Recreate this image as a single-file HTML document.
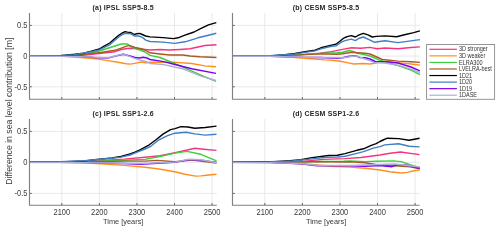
<!DOCTYPE html>
<html><head><meta charset="utf-8"><style>
html,body{margin:0;padding:0;background:#fff;width:500px;height:230px;overflow:hidden}
svg{display:block;will-change:transform}
text{font-family:"Liberation Sans",sans-serif;fill:#262626}
.tk{font-size:7.5px;fill:#3a3a3a}
.xl{font-size:7.4px;fill:#3a3a3a}
.yl{font-size:8.7px;fill:#3a3a3a}
.ti{font-size:7px;font-weight:bold;fill:#262626;letter-spacing:0.22px}
.lg{font-size:5.5px;fill:#333}
</style></head><body>
<svg width="500" height="230" viewBox="0 0 500 230">
<rect width="500" height="230" fill="#fff"/>
<line x1="61.80" y1="13" x2="61.80" y2="99.2" stroke="#E4E4E4" stroke-width="0.8"/>
<line x1="99.37" y1="13" x2="99.37" y2="99.2" stroke="#E4E4E4" stroke-width="0.8"/>
<line x1="136.94" y1="13" x2="136.94" y2="99.2" stroke="#E4E4E4" stroke-width="0.8"/>
<line x1="174.51" y1="13" x2="174.51" y2="99.2" stroke="#E4E4E4" stroke-width="0.8"/>
<line x1="212.08" y1="13" x2="212.08" y2="99.2" stroke="#E4E4E4" stroke-width="0.8"/>
<line x1="29.6" y1="25.40" x2="216.8" y2="25.40" stroke="#E4E4E4" stroke-width="0.8"/>
<line x1="29.6" y1="56.10" x2="216.8" y2="56.10" stroke="#E4E4E4" stroke-width="0.8"/>
<line x1="29.6" y1="86.80" x2="216.8" y2="86.80" stroke="#E4E4E4" stroke-width="0.8"/>
<line x1="61.80" y1="99.2" x2="61.80" y2="97.0" stroke="#555" stroke-width="0.9"/>
<line x1="99.37" y1="99.2" x2="99.37" y2="97.0" stroke="#555" stroke-width="0.9"/>
<line x1="136.94" y1="99.2" x2="136.94" y2="97.0" stroke="#555" stroke-width="0.9"/>
<line x1="174.51" y1="99.2" x2="174.51" y2="97.0" stroke="#555" stroke-width="0.9"/>
<line x1="212.08" y1="99.2" x2="212.08" y2="97.0" stroke="#555" stroke-width="0.9"/>
<line x1="29.6" y1="25.40" x2="31.8" y2="25.40" stroke="#555" stroke-width="0.9"/>
<line x1="29.6" y1="56.10" x2="31.8" y2="56.10" stroke="#555" stroke-width="0.9"/>
<line x1="29.6" y1="86.80" x2="31.8" y2="86.80" stroke="#555" stroke-width="0.9"/>
<polyline points="29.60,56.05 60.00,56.05 80.00,55.55 92.40,54.30 101.00,53.20 115.00,51.70 121.10,49.50 128.90,48.20 136.00,48.50 145.00,49.50 150.00,50.00 160.00,49.50 170.00,50.00 180.00,49.50 190.00,48.80 198.00,47.00 205.00,45.50 216.50,44.80" fill="none" stroke="#F7337F" stroke-width="1.4" stroke-linejoin="round" stroke-linecap="butt"/>
<polyline points="29.60,55.95 60.00,56.15 80.00,57.50 94.00,58.50 108.00,60.60 116.40,62.00 126.20,63.70 130.40,64.10 136.00,63.10 141.60,62.00 145.80,62.70 150.60,62.20 173.00,62.10 191.70,63.50 204.80,65.90 216.00,66.80" fill="none" stroke="#FF9020" stroke-width="1.4" stroke-linejoin="round" stroke-linecap="butt"/>
<polyline points="29.60,55.90 60.00,55.90 80.00,54.90 92.40,52.50 99.30,51.20 105.40,49.00 115.00,46.00 121.10,44.00 127.60,44.00 130.00,46.00 135.00,48.50 140.00,50.00 145.00,52.00 150.00,55.40 160.00,57.50 165.00,59.50 182.40,66.80 201.00,75.20 216.00,81.40" fill="none" stroke="#3CCF3C" stroke-width="1.4" stroke-linejoin="round" stroke-linecap="butt"/>
<polyline points="29.60,56.00 60.00,56.00 80.00,55.30 92.40,53.40 101.00,52.50 115.00,50.30 121.10,48.20 128.90,45.30 135.00,47.50 140.00,48.50 145.00,50.00 150.00,52.80 160.00,54.00 170.00,55.00 183.00,55.00 190.00,56.00 200.00,56.80 216.50,57.50" fill="none" stroke="#A65A24" stroke-width="1.4" stroke-linejoin="round" stroke-linecap="butt"/>
<polyline points="29.60,55.85 60.00,55.75 75.00,54.30 83.70,53.20 92.40,50.80 99.30,49.00 103.70,46.40 109.80,43.00 114.30,39.00 118.70,35.40 122.20,33.00 125.20,31.70 127.40,32.10 130.90,32.50 134.30,34.50 137.00,33.70 139.60,33.40 142.20,34.50 145.70,36.00 150.00,36.90 163.00,37.60 173.50,38.60 178.00,37.80 185.00,35.20 194.10,32.00 200.60,28.70 208.50,24.80 216.30,22.60" fill="none" stroke="#000000" stroke-width="1.4" stroke-linejoin="round" stroke-linecap="butt"/>
<polyline points="29.60,55.70 60.00,55.70 75.00,54.60 92.40,51.50 99.30,49.90 105.40,46.90 109.80,44.80 114.30,40.80 118.70,36.90 122.20,34.70 125.20,33.40 130.90,33.80 134.30,36.00 138.70,36.00 142.20,37.30 145.70,40.10 150.00,41.50 163.00,42.10 174.80,43.40 185.00,41.80 190.00,40.30 198.00,37.80 208.50,35.20 216.30,33.30" fill="none" stroke="#3F7FC4" stroke-width="1.4" stroke-linejoin="round" stroke-linecap="butt"/>
<polyline points="29.60,56.20 60.00,56.30 80.00,56.40 94.00,57.50 108.00,58.10 116.40,55.90 123.40,54.30 129.00,55.70 135.00,57.50 140.00,58.00 143.00,57.20 147.00,58.00 150.00,59.50 163.70,61.60 173.00,64.00 191.70,68.70 216.00,73.40" fill="none" stroke="#7A00F2" stroke-width="1.4" stroke-linejoin="round" stroke-linecap="butt"/>
<polyline points="29.60,56.28 60.00,56.38 80.00,56.58 108.00,57.80 123.40,53.90 133.20,57.80 138.80,59.90 145.00,61.20 150.60,63.50 163.70,64.60 182.40,68.70 201.00,76.20 216.00,80.50" fill="none" stroke="#ABAED8" stroke-width="1.4" stroke-linejoin="round" stroke-linecap="butt"/>
<path d="M29.5,13 V99.2 H216.8" fill="none" stroke="#808080" stroke-width="1.15"/>
<text transform="translate(27.4,28.0) scale(1,1.15)" text-anchor="end" class="tk">0.5</text>
<text transform="translate(27.4,58.7) scale(1,1.15)" text-anchor="end" class="tk">0</text>
<text transform="translate(27.4,90.2) scale(1,1.15)" text-anchor="end" class="tk">-0.5</text>
<text transform="translate(123.2,9.95) scale(1,1.08)" text-anchor="middle" class="ti">(a) IPSL SSP5-8.5</text>
<line x1="264.80" y1="13" x2="264.80" y2="99.2" stroke="#E4E4E4" stroke-width="0.8"/>
<line x1="302.37" y1="13" x2="302.37" y2="99.2" stroke="#E4E4E4" stroke-width="0.8"/>
<line x1="339.94" y1="13" x2="339.94" y2="99.2" stroke="#E4E4E4" stroke-width="0.8"/>
<line x1="377.51" y1="13" x2="377.51" y2="99.2" stroke="#E4E4E4" stroke-width="0.8"/>
<line x1="415.08" y1="13" x2="415.08" y2="99.2" stroke="#E4E4E4" stroke-width="0.8"/>
<line x1="232.6" y1="25.40" x2="419.7" y2="25.40" stroke="#E4E4E4" stroke-width="0.8"/>
<line x1="232.6" y1="56.10" x2="419.7" y2="56.10" stroke="#E4E4E4" stroke-width="0.8"/>
<line x1="232.6" y1="86.80" x2="419.7" y2="86.80" stroke="#E4E4E4" stroke-width="0.8"/>
<line x1="264.80" y1="99.2" x2="264.80" y2="97.0" stroke="#555" stroke-width="0.9"/>
<line x1="302.37" y1="99.2" x2="302.37" y2="97.0" stroke="#555" stroke-width="0.9"/>
<line x1="339.94" y1="99.2" x2="339.94" y2="97.0" stroke="#555" stroke-width="0.9"/>
<line x1="377.51" y1="99.2" x2="377.51" y2="97.0" stroke="#555" stroke-width="0.9"/>
<line x1="415.08" y1="99.2" x2="415.08" y2="97.0" stroke="#555" stroke-width="0.9"/>
<line x1="232.6" y1="25.40" x2="234.79999999999998" y2="25.40" stroke="#555" stroke-width="0.9"/>
<line x1="232.6" y1="56.10" x2="234.79999999999998" y2="56.10" stroke="#555" stroke-width="0.9"/>
<line x1="232.6" y1="86.80" x2="234.79999999999998" y2="86.80" stroke="#555" stroke-width="0.9"/>
<polyline points="232.60,56.05 270.00,56.05 300.00,54.85 320.00,53.30 331.30,51.60 342.60,49.40 351.70,47.70 360.70,48.20 370.00,47.40 377.00,48.70 385.00,48.00 398.00,48.80 411.00,47.50 419.90,46.90" fill="none" stroke="#F7337F" stroke-width="1.4" stroke-linejoin="round" stroke-linecap="butt"/>
<polyline points="232.60,55.95 270.00,55.95 285.00,56.65 295.00,57.60 315.00,59.00 325.00,59.90 331.30,60.30 340.40,61.20 348.30,62.90 353.90,64.00 363.00,63.50 370.00,64.00 378.80,62.60 398.00,62.60 411.00,64.00 419.90,65.10" fill="none" stroke="#FF9020" stroke-width="1.4" stroke-linejoin="round" stroke-linecap="butt"/>
<polyline points="232.60,55.90 270.00,55.90 300.00,54.60 320.00,53.40 337.00,52.70 342.60,52.20 349.40,50.50 353.90,51.60 357.30,53.30 363.00,54.40 370.00,56.00 378.80,59.80 389.00,63.00 398.00,65.60 411.00,70.20 419.90,74.60" fill="none" stroke="#3CCF3C" stroke-width="1.4" stroke-linejoin="round" stroke-linecap="butt"/>
<polyline points="232.60,56.00 270.00,56.00 300.00,54.90 320.00,53.90 337.00,54.20 342.60,53.80 351.70,52.20 357.30,52.70 365.20,53.30 370.00,54.00 382.30,59.50 398.00,61.10 411.00,61.70 419.90,62.40" fill="none" stroke="#A65A24" stroke-width="1.4" stroke-linejoin="round" stroke-linecap="butt"/>
<polyline points="232.60,55.85 270.00,55.85 285.00,54.75 295.00,53.50 305.00,51.80 315.00,50.20 321.00,47.80 330.40,45.40 335.90,44.30 340.20,41.00 343.50,38.30 345.00,37.50 348.10,36.40 351.30,35.60 355.40,37.00 358.60,35.20 363.30,33.30 368.00,34.90 372.20,37.00 376.30,36.40 385.00,35.90 396.70,36.70 404.50,34.80 413.70,32.60 419.90,30.90" fill="none" stroke="#000000" stroke-width="1.4" stroke-linejoin="round" stroke-linecap="butt"/>
<polyline points="232.60,55.70 270.00,55.70 285.00,54.80 295.00,54.00 305.00,52.40 315.00,50.90 321.70,48.60 330.40,46.50 335.90,45.90 341.30,42.10 345.00,40.60 351.30,39.10 355.40,40.60 358.60,38.50 363.30,37.00 369.00,39.60 374.20,42.20 379.50,41.50 385.00,40.80 398.00,42.60 411.00,40.90 419.90,39.60" fill="none" stroke="#3F7FC4" stroke-width="1.4" stroke-linejoin="round" stroke-linecap="butt"/>
<polyline points="232.60,56.20 270.00,56.20 285.00,56.80 305.00,57.40 320.00,57.50 337.00,58.40 342.60,57.80 349.40,56.30 356.20,55.80 359.60,57.50 365.20,57.80 370.00,59.00 375.30,61.50 387.50,61.80 398.00,63.00 411.00,67.00 419.90,70.90" fill="none" stroke="#7A00F2" stroke-width="1.4" stroke-linejoin="round" stroke-linecap="butt"/>
<polyline points="232.60,56.28 270.00,56.28 285.00,56.78 305.00,57.28 320.00,57.38 342.60,57.80 356.20,55.88 365.00,59.00 370.00,60.70 373.60,62.40 385.00,63.00 398.00,65.20 411.00,69.20 419.90,72.50" fill="none" stroke="#ABAED8" stroke-width="1.4" stroke-linejoin="round" stroke-linecap="butt"/>
<path d="M232.5,13 V99.2 H419.7" fill="none" stroke="#808080" stroke-width="1.15"/>
<text transform="translate(326.1,9.95) scale(1,1.08)" text-anchor="middle" class="ti">(b) CESM SSP5-8.5</text>
<line x1="61.80" y1="119" x2="61.80" y2="205.2" stroke="#E4E4E4" stroke-width="0.8"/>
<line x1="99.37" y1="119" x2="99.37" y2="205.2" stroke="#E4E4E4" stroke-width="0.8"/>
<line x1="136.94" y1="119" x2="136.94" y2="205.2" stroke="#E4E4E4" stroke-width="0.8"/>
<line x1="174.51" y1="119" x2="174.51" y2="205.2" stroke="#E4E4E4" stroke-width="0.8"/>
<line x1="212.08" y1="119" x2="212.08" y2="205.2" stroke="#E4E4E4" stroke-width="0.8"/>
<line x1="29.6" y1="131.40" x2="216.8" y2="131.40" stroke="#E4E4E4" stroke-width="0.8"/>
<line x1="29.6" y1="162.40" x2="216.8" y2="162.40" stroke="#E4E4E4" stroke-width="0.8"/>
<line x1="29.6" y1="193.40" x2="216.8" y2="193.40" stroke="#E4E4E4" stroke-width="0.8"/>
<line x1="61.80" y1="205.2" x2="61.80" y2="203.0" stroke="#555" stroke-width="0.9"/>
<line x1="99.37" y1="205.2" x2="99.37" y2="203.0" stroke="#555" stroke-width="0.9"/>
<line x1="136.94" y1="205.2" x2="136.94" y2="203.0" stroke="#555" stroke-width="0.9"/>
<line x1="174.51" y1="205.2" x2="174.51" y2="203.0" stroke="#555" stroke-width="0.9"/>
<line x1="212.08" y1="205.2" x2="212.08" y2="203.0" stroke="#555" stroke-width="0.9"/>
<line x1="29.6" y1="131.40" x2="31.8" y2="131.40" stroke="#555" stroke-width="0.9"/>
<line x1="29.6" y1="162.40" x2="31.8" y2="162.40" stroke="#555" stroke-width="0.9"/>
<line x1="29.6" y1="193.40" x2="31.8" y2="193.40" stroke="#555" stroke-width="0.9"/>
<polyline points="29.60,162.25 60.00,162.15 85.00,161.55 124.10,159.10 145.00,157.20 160.00,155.70 177.40,152.20 194.80,148.30 203.50,149.20 216.50,150.40" fill="none" stroke="#F7337F" stroke-width="1.4" stroke-linejoin="round" stroke-linecap="butt"/>
<polyline points="29.60,162.15 60.00,162.25 85.00,162.75 124.10,165.40 145.00,167.20 157.40,168.80 174.80,171.70 185.00,174.20 195.70,176.10 201.00,175.90 206.10,175.30 216.50,174.30" fill="none" stroke="#FF9020" stroke-width="1.4" stroke-linejoin="round" stroke-linecap="butt"/>
<polyline points="29.60,162.10 60.00,162.00 85.00,161.70 124.10,160.20 145.00,159.40 160.00,156.50 174.80,153.10 187.00,151.40 200.90,154.30 216.50,160.80" fill="none" stroke="#3CCF3C" stroke-width="1.4" stroke-linejoin="round" stroke-linecap="butt"/>
<polyline points="29.60,162.20 60.00,162.10 85.00,162.00 124.10,161.10 145.00,161.10 157.40,160.40 174.80,161.80 192.20,160.10 216.50,163.00" fill="none" stroke="#A65A24" stroke-width="1.4" stroke-linejoin="round" stroke-linecap="butt"/>
<polyline points="29.60,162.05 60.00,161.85 85.00,160.85 95.00,159.60 112.00,157.90 121.00,156.50 130.00,154.00 135.00,152.20 140.00,149.80 149.30,144.80 155.40,140.20 163.00,134.10 170.60,129.60 175.00,128.60 180.90,126.60 187.80,127.00 194.80,128.20 205.20,127.50 216.50,126.10" fill="none" stroke="#000000" stroke-width="1.4" stroke-linejoin="round" stroke-linecap="butt"/>
<polyline points="29.60,161.90 60.00,161.70 85.00,160.60 95.00,159.80 112.00,158.30 121.00,157.10 130.00,155.00 137.20,152.20 145.00,149.00 150.80,146.30 158.40,140.20 167.60,135.60 175.00,133.20 186.10,132.20 194.80,133.90 205.20,135.10 216.50,134.30" fill="none" stroke="#3F7FC4" stroke-width="1.4" stroke-linejoin="round" stroke-linecap="butt"/>
<polyline points="29.60,162.40 60.00,162.40 85.00,162.60 124.10,163.50 140.00,164.30 157.40,163.20 174.80,162.40 188.70,159.60 200.90,160.10 216.50,162.40" fill="none" stroke="#7A00F2" stroke-width="1.4" stroke-linejoin="round" stroke-linecap="butt"/>
<polyline points="29.60,162.48 60.00,162.48 85.00,162.58 124.10,163.28 140.00,163.50 157.40,162.88 174.80,162.08 188.70,159.20 200.90,159.80 216.50,162.78" fill="none" stroke="#ABAED8" stroke-width="1.4" stroke-linejoin="round" stroke-linecap="butt"/>
<path d="M29.5,119 V205.2 H216.8" fill="none" stroke="#808080" stroke-width="1.15"/>
<text transform="translate(27.4,134.0) scale(1,1.15)" text-anchor="end" class="tk">0.5</text>
<text transform="translate(27.4,165.0) scale(1,1.15)" text-anchor="end" class="tk">0</text>
<text transform="translate(27.4,196.0) scale(1,1.15)" text-anchor="end" class="tk">-0.5</text>
<text transform="translate(61.80,215.2) scale(1,1.15)" text-anchor="middle" class="tk">2100</text>
<text transform="translate(99.37,215.2) scale(1,1.15)" text-anchor="middle" class="tk">2200</text>
<text transform="translate(136.94,215.2) scale(1,1.15)" text-anchor="middle" class="tk">2300</text>
<text transform="translate(174.51,215.2) scale(1,1.15)" text-anchor="middle" class="tk">2400</text>
<text transform="translate(212.08,215.2) scale(1,1.15)" text-anchor="middle" class="tk">2500</text>
<text transform="translate(123.2,223.5) scale(1,1.05)" text-anchor="middle" class="xl">Time [years]</text>
<text transform="translate(123.2,115.95) scale(1,1.08)" text-anchor="middle" class="ti">(c) IPSL SSP1-2.6</text>
<line x1="264.80" y1="119" x2="264.80" y2="205.2" stroke="#E4E4E4" stroke-width="0.8"/>
<line x1="302.37" y1="119" x2="302.37" y2="205.2" stroke="#E4E4E4" stroke-width="0.8"/>
<line x1="339.94" y1="119" x2="339.94" y2="205.2" stroke="#E4E4E4" stroke-width="0.8"/>
<line x1="377.51" y1="119" x2="377.51" y2="205.2" stroke="#E4E4E4" stroke-width="0.8"/>
<line x1="415.08" y1="119" x2="415.08" y2="205.2" stroke="#E4E4E4" stroke-width="0.8"/>
<line x1="232.6" y1="131.40" x2="419.7" y2="131.40" stroke="#E4E4E4" stroke-width="0.8"/>
<line x1="232.6" y1="162.40" x2="419.7" y2="162.40" stroke="#E4E4E4" stroke-width="0.8"/>
<line x1="232.6" y1="193.40" x2="419.7" y2="193.40" stroke="#E4E4E4" stroke-width="0.8"/>
<line x1="264.80" y1="205.2" x2="264.80" y2="203.0" stroke="#555" stroke-width="0.9"/>
<line x1="302.37" y1="205.2" x2="302.37" y2="203.0" stroke="#555" stroke-width="0.9"/>
<line x1="339.94" y1="205.2" x2="339.94" y2="203.0" stroke="#555" stroke-width="0.9"/>
<line x1="377.51" y1="205.2" x2="377.51" y2="203.0" stroke="#555" stroke-width="0.9"/>
<line x1="415.08" y1="205.2" x2="415.08" y2="203.0" stroke="#555" stroke-width="0.9"/>
<line x1="232.6" y1="131.40" x2="234.79999999999998" y2="131.40" stroke="#555" stroke-width="0.9"/>
<line x1="232.6" y1="162.40" x2="234.79999999999998" y2="162.40" stroke="#555" stroke-width="0.9"/>
<line x1="232.6" y1="193.40" x2="234.79999999999998" y2="193.40" stroke="#555" stroke-width="0.9"/>
<polyline points="232.60,162.25 270.00,162.25 300.00,161.65 323.00,159.40 345.00,158.60 360.80,157.50 380.00,155.00 390.00,153.30 400.40,152.00 419.60,154.60" fill="none" stroke="#F7337F" stroke-width="1.4" stroke-linejoin="round" stroke-linecap="butt"/>
<polyline points="232.60,162.15 270.00,162.35 300.00,163.50 334.80,166.50 350.00,167.00 365.00,168.20 380.00,170.00 390.00,171.80 401.00,173.00 407.00,172.40 413.00,171.00 419.70,170.00" fill="none" stroke="#FF9020" stroke-width="1.4" stroke-linejoin="round" stroke-linecap="butt"/>
<polyline points="232.60,162.10 270.00,162.10 300.00,161.90 317.40,161.70 343.50,161.20 350.00,160.90 365.00,161.60 377.00,161.20 393.50,160.90 401.00,161.60 410.00,164.70 419.70,167.70" fill="none" stroke="#3CCF3C" stroke-width="1.4" stroke-linejoin="round" stroke-linecap="butt"/>
<polyline points="232.60,162.20 270.00,162.20 300.00,162.00 317.40,161.50 343.50,162.00 350.00,161.70 365.00,162.80 380.00,165.20 395.00,165.80 410.00,166.70 419.70,168.80" fill="none" stroke="#A65A24" stroke-width="1.4" stroke-linejoin="round" stroke-linecap="butt"/>
<polyline points="232.60,162.05 270.00,161.95 290.00,160.75 301.00,159.80 312.00,157.60 323.00,156.20 328.50,155.50 337.30,155.20 345.00,153.60 356.70,150.30 363.60,148.80 370.60,145.60 376.10,143.60 380.00,141.50 383.00,140.00 387.40,138.20 398.70,138.60 409.10,140.30 419.60,138.30" fill="none" stroke="#000000" stroke-width="1.4" stroke-linejoin="round" stroke-linecap="butt"/>
<polyline points="232.60,161.90 270.00,161.80 290.00,161.20 312.00,158.90 326.30,157.30 337.30,157.00 345.00,156.30 353.90,154.10 363.60,151.60 373.30,148.10 380.00,146.60 384.80,144.90 398.70,143.70 409.10,146.30 419.60,146.90" fill="none" stroke="#3F7FC4" stroke-width="1.4" stroke-linejoin="round" stroke-linecap="butt"/>
<polyline points="232.60,162.40 270.00,162.50 300.00,163.90 317.40,165.70 343.50,165.70 350.00,165.80 365.00,166.20 380.00,165.50 392.00,166.70 398.00,164.70 407.00,165.20 419.70,168.20" fill="none" stroke="#7A00F2" stroke-width="1.4" stroke-linejoin="round" stroke-linecap="butt"/>
<polyline points="232.60,162.48 270.00,162.58 300.00,163.50 317.40,165.20 350.00,165.50 395.00,164.00 419.70,167.00" fill="none" stroke="#ABAED8" stroke-width="1.4" stroke-linejoin="round" stroke-linecap="butt"/>
<path d="M232.5,119 V205.2 H419.7" fill="none" stroke="#808080" stroke-width="1.15"/>
<text transform="translate(264.80,215.2) scale(1,1.15)" text-anchor="middle" class="tk">2100</text>
<text transform="translate(302.37,215.2) scale(1,1.15)" text-anchor="middle" class="tk">2200</text>
<text transform="translate(339.94,215.2) scale(1,1.15)" text-anchor="middle" class="tk">2300</text>
<text transform="translate(377.51,215.2) scale(1,1.15)" text-anchor="middle" class="tk">2400</text>
<text transform="translate(415.08,215.2) scale(1,1.15)" text-anchor="middle" class="tk">2500</text>
<text transform="translate(326.1,223.5) scale(1,1.05)" text-anchor="middle" class="xl">Time [years]</text>
<text transform="translate(326.1,115.95) scale(1,1.08)" text-anchor="middle" class="ti">(d) CESM SSP1-2.6</text>
<text transform="translate(11.7,111.15) rotate(-90)" text-anchor="middle" class="yl">Difference in sea level contribution [m]</text>
<rect x="426.6" y="44.5" width="68" height="54.8" fill="#fff" stroke="#8a8a8a" stroke-width="0.9"/>
<line x1="429.4" y1="49.30" x2="456.9" y2="49.30" stroke="#F7337F" stroke-width="1.2"/>
<text transform="translate(459.0,51.40) scale(1,1.18)" class="lg">3D stronger</text>
<line x1="429.4" y1="55.86" x2="456.9" y2="55.86" stroke="#FF9020" stroke-width="1.2"/>
<text transform="translate(459.0,57.96) scale(1,1.18)" class="lg">3D weaker</text>
<line x1="429.4" y1="62.42" x2="456.9" y2="62.42" stroke="#3CCF3C" stroke-width="1.2"/>
<text transform="translate(459.0,64.52) scale(1,1.18)" class="lg">ELRA300</text>
<line x1="429.4" y1="68.98" x2="456.9" y2="68.98" stroke="#A65A24" stroke-width="1.2"/>
<text transform="translate(459.0,71.08) scale(1,1.18)" class="lg">LVELRA-best</text>
<line x1="429.4" y1="75.54" x2="456.9" y2="75.54" stroke="#000000" stroke-width="1.2"/>
<text transform="translate(459.0,77.64) scale(1,1.18)" class="lg">1D21</text>
<line x1="429.4" y1="82.10" x2="456.9" y2="82.10" stroke="#3F7FC4" stroke-width="1.2"/>
<text transform="translate(459.0,84.20) scale(1,1.18)" class="lg">1D20</text>
<line x1="429.4" y1="88.66" x2="456.9" y2="88.66" stroke="#7A00F2" stroke-width="1.2"/>
<text transform="translate(459.0,90.76) scale(1,1.18)" class="lg">1D19</text>
<line x1="429.4" y1="95.22" x2="456.9" y2="95.22" stroke="#ABAED8" stroke-width="1.2"/>
<text transform="translate(459.0,97.32) scale(1,1.18)" class="lg">1DASE</text>
</svg>
</body></html>
